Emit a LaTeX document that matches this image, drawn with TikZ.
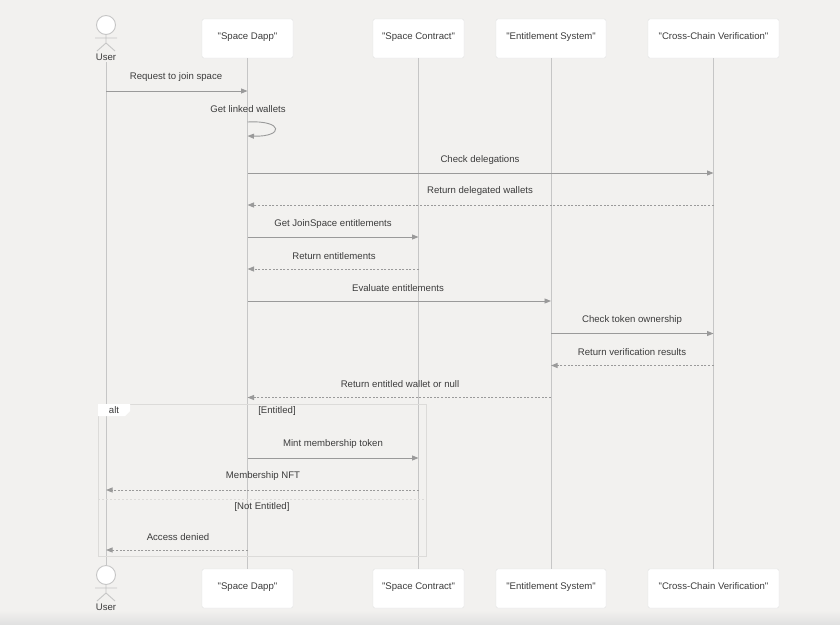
\documentclass[tikz,border=0pt]{standalone}
\usepackage{fontspec}
\setmainfont{Liberation Sans}
\usetikzlibrary{arrows.meta,calc}
\definecolor{bg}{HTML}{F2F1EF}
\definecolor{strip}{HTML}{E1E1E1}
\definecolor{life}{HTML}{C6C6C6}
\definecolor{arr}{HTML}{9A9A9A}
\definecolor{txt}{HTML}{3C3C3C}
\definecolor{boxln}{HTML}{E2E2E2}
\definecolor{altln}{HTML}{DCDBD9}
\newcommand{\qq}[1]{\textquotedbl#1\textquotedbl}
\tikzset{
  part/.style={draw=boxln, fill=white, rounded corners=1.5pt, minimum width=#1, minimum height=39pt, inner sep=0pt, text height=7pt, text depth=2pt, font=\fontsize{9.6}{11}\selectfont, text=txt},
  lifeline/.style={draw=life, line width=1pt},
  msg/.style={draw=arr, line width=0.9pt, -{Triangle[length=6.5pt,width=5pt]}},
  rmsg/.style={msg, dash pattern=on 2pt off 1.6pt},
  lbl/.style={font=\fontsize{9.6}{11}\selectfont, text=txt, inner sep=0pt},
  actorln/.style={draw=life, line width=0.9pt},
}
\begin{document}
\begin{tikzpicture}[x=1pt,y=-1pt]
\useasboundingbox (0,0) rectangle (840,624);
\fill[bg] (0,0) rectangle (840,624);
\shade[top color=bg, bottom color=strip] (0,610) rectangle (840,624);

% participants top
\node[part=91pt]  (dappT) at (247.5,38.5) {\raisebox{1.5pt}{\qq{Space Dapp}}};
\node[part=91pt]  (contT) at (418.5,38.5) {\raisebox{1.5pt}{\qq{Space Contract}}};
\node[part=110pt] (entT)  at (551,38.5)   {\raisebox{1.5pt}{\qq{Entitlement System}}};
\node[part=131pt] (ccvT)  at (713.5,38.5) {\raisebox{1.5pt}{\qq{Cross-Chain Verification}}};
% participants bottom
\node[part=91pt]  (dappB) at (247.5,588.5) {\raisebox{1.5pt}{\qq{Space Dapp}}};
\node[part=91pt]  (contB) at (418.5,588.5) {\raisebox{1.5pt}{\qq{Space Contract}}};
\node[part=110pt] (entB)  at (551,588.5)   {\raisebox{1.5pt}{\qq{Entitlement System}}};
\node[part=131pt] (ccvB)  at (713.5,588.5) {\raisebox{1.5pt}{\qq{Cross-Chain Verification}}};

% actors
\coordinate (userT) at (106,62);
\coordinate (userB) at (106,565);
\node[lbl] (userTl) at (106,57) {User};
\node[lbl] (userBl) at (106,607) {User};
\draw[actorln, fill=white] (106,25) circle (9.5);
\draw[actorln] (106,34.5) -- (106,43) (95,38) -- (117,38) (97,51) -- (106,43) -- (115,51);
\draw[actorln, fill=white] (106,575) circle (9.5);
\draw[actorln] (106,584.5) -- (106,593) (95,588) -- (117,588) (97,601) -- (106,593) -- (115,601);

% lifelines
\draw[lifeline] (userT) -- (userB);
\draw[lifeline] (dappT.south) -- (dappB.north);
\draw[lifeline] (contT.south) -- (contB.north);
\draw[lifeline] (entT.south) -- (entB.north);
\draw[lifeline] (ccvT.south) -- (ccvB.north);

% alt frame
\draw[altln, line width=0.8pt] (98,404) rectangle (426,556);
\draw[altln, line width=0.8pt, dash pattern=on 2pt off 2pt] (98,499) -- (426,499);
\fill[white] (98,404) -- (130,404) -- (130,411) -- (125,416) -- (98,416) -- cycle;
\node[lbl] at (114,410.5) {alt};
\node[lbl] at (277,411) {[Entitled]};
\node[lbl] at (262,507.5) {[Not Entitled]};

% messages
\draw[msg] (userT |- 0,91) -- (dappT |- 0,91);
\node[lbl] at (176,77) {Request to join space};

\node[lbl] at (248,109) {Get linked wallets};
\draw[msg] (dappT |- 0,122) .. controls (284,120) and (284,137) .. (dappT |- 0,136);

\draw[msg] (dappT |- 0,173) -- (ccvT |- 0,173);
\node[lbl] at (480,160) {Check delegations};

\draw[rmsg] (ccvT |- 0,205) -- (dappT |- 0,205);
\node[lbl] at (480,191.5) {Return delegated wallets};

\draw[msg] (dappT |- 0,237) -- (contT |- 0,237);
\node[lbl] at (333,224) {Get JoinSpace entitlements};

\draw[rmsg] (contT |- 0,269) -- (dappT |- 0,269);
\node[lbl] at (334,256) {Return entitlements};

\draw[msg] (dappT |- 0,301) -- (entT |- 0,301);
\node[lbl] at (398,288) {Evaluate entitlements};

\draw[msg] (entT |- 0,333.5) -- (ccvT |- 0,333.5);
\node[lbl] at (632,320) {Check token ownership};

\draw[rmsg] (ccvT |- 0,365.5) -- (entT |- 0,365.5);
\node[lbl] at (632,352.5) {Return verification results};

\draw[rmsg] (entT |- 0,397.5) -- (dappT |- 0,397.5);
\node[lbl] at (400,384) {Return entitled wallet or null};

\draw[msg] (dappT |- 0,458) -- (contT |- 0,458);
\node[lbl] at (333,444) {Mint membership token};

\draw[rmsg] (contT |- 0,490) -- (userT |- 0,490);
\node[lbl] at (263,476.5) {Membership NFT};

\draw[rmsg] (dappT |- 0,550) -- (userT |- 0,550);
\node[lbl] at (178,537) {Access denied};
\end{tikzpicture}
\end{document}
